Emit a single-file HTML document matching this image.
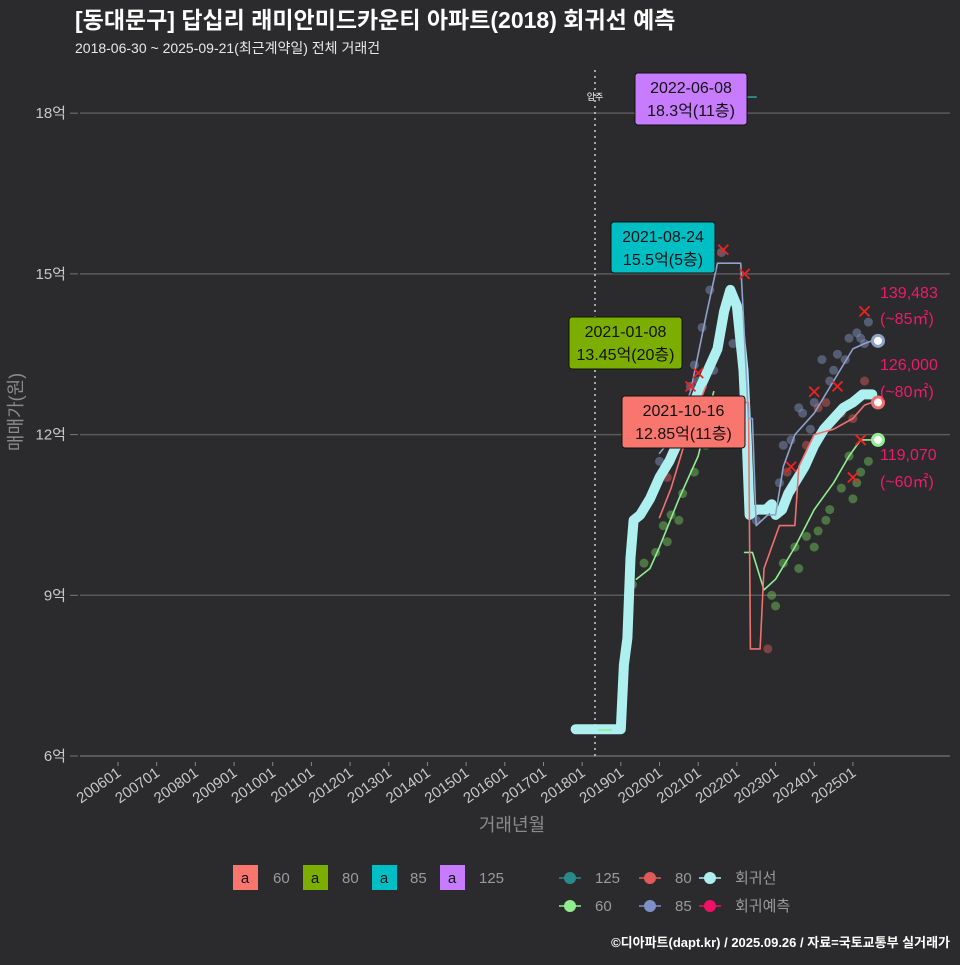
<!DOCTYPE html>
<html><head><meta charset="utf-8">
<style>
html,body{margin:0;padding:0;background:#2b2b2d;}
body{width:960px;height:960px;overflow:hidden;font-family:"Liberation Sans","Noto Sans CJK KR",sans-serif;}
</style></head>
<body>
<svg id="chart" width="960" height="960" xmlns="http://www.w3.org/2000/svg" font-family="Liberation Sans, Noto Sans CJK KR, sans-serif">
<rect width="960" height="960" fill="#2b2b2d"/>
<text x="75" y="28" fill="#ffffff" font-size="23" font-weight="bold">[동대문구] 답십리 래미안미드카운티 아파트(2018) 회귀선 예측</text>
<text x="75" y="53" fill="#e8e8e8" font-size="14">2018-06-30 ~ 2025-09-21(최근계약일) 전체 거래건</text>
<g id="grid"></g>
<g id="marks"></g>
<g id="labels"></g>
<text transform="translate(22,412) rotate(-90)" text-anchor="middle" fill="#8a8a8a" font-size="18">매매가(원)</text>
<text x="512" y="831" text-anchor="middle" fill="#8a8a8a" font-size="18">거래년월</text>
<g font-size="15">
 <rect x="233" y="865" width="25" height="25" fill="#f8766d"/><text x="245" y="883" text-anchor="middle" font-size="15" fill="#111">a</text><text x="273" y="883" fill="#9a9a9a">60</text>
 <rect x="303" y="865" width="25" height="25" fill="#7cae00"/><text x="315" y="883" text-anchor="middle" fill="#111">a</text><text x="342" y="883" fill="#9a9a9a">80</text>
 <rect x="372" y="865" width="25" height="25" fill="#00bfc4"/><text x="384" y="883" text-anchor="middle" fill="#111">a</text><text x="410" y="883" fill="#9a9a9a">85</text>
 <rect x="440" y="865" width="25" height="25" fill="#c77cff"/><text x="452" y="883" text-anchor="middle" fill="#111">a</text><text x="479" y="883" fill="#9a9a9a">125</text>
</g>
<g id="legend2" font-size="15"></g>
<text x="950" y="947" text-anchor="end" fill="#ffffff" font-size="13" font-weight="bold">©디아파트(dapt.kr) / 2025.09.26 / 자료=국토교통부 실거래가</text>
</svg>
<script>
const yTicks=[6,9,12,15,18];
const xTickYears=[2006,2007,2008,2009,2010,2011,2012,2013,2014,2015,2016,2017,2018,2019,2020,2021,2022,2023,2024,2025];
const regT=[2017.83,2019.0,2019.08,2019.17,2019.25,2019.33,2019.5,2019.75,2020.0,2020.25,2020.5,2020.75,2021.0,2021.25,2021.5,2021.67,2021.83,2022.0,2022.17,2022.25,2022.33,2022.5,2022.75,2022.9,2023.0,2023.17,2023.33,2023.5,2023.75,2024.0,2024.25,2024.5,2024.75,2025.0,2025.25,2025.5];
const regV=[6.5,6.5,7.7,8.2,9.7,10.4,10.5,10.8,11.2,11.5,11.9,12.3,12.8,13.2,13.6,14.3,14.7,14.4,13.2,12.0,10.5,10.6,10.6,10.7,10.5,10.6,10.9,11.1,11.4,11.8,12.1,12.3,12.5,12.6,12.75,12.75];
const s85T=[2020.0,2020.4,2020.8,2021.2,2021.5,2021.8,2022.1,2022.3,2022.4,2022.5,2022.8,2023.0,2023.2,2023.5,2024.0,2024.5,2025.0,2025.3,2025.5];
const s85V=[11.65,12.0,12.8,14.2,15.2,15.2,15.2,12.3,12.3,10.3,10.5,10.5,11.4,12.0,12.4,13.0,13.6,13.7,13.75];
const s80T=[2020.0,2020.3,2020.8,2021.2,2021.35,2022.3,2022.35,2022.6,2022.7,2023.1,2023.5,2023.6,2024.0,2024.5,2025.0,2025.3,2025.5];
const s80V=[10.45,11.0,12.2,12.9,12.6,12.6,8.0,8.0,9.5,10.3,10.3,11.4,12.0,12.1,12.3,12.55,12.6];
const s60T=[2019.4,2019.75,2020.0,2020.5,2021.0,2021.4,2022.2,2022.4,2022.7,2023.0,2023.5,2024.0,2024.5,2024.9,2025.2,2025.5];
const s60V=[9.3,9.5,9.9,10.8,11.6,12.8,9.8,9.8,9.1,9.3,9.9,10.6,11.1,11.6,11.9,11.9];
const dot85T=[2020.0,2020.3,2020.6,2020.9,2021.1,2021.3,2021.6,2022.5,2022.8,2023.1,2023.4,2023.7,2024.0,2024.2,2024.4,2024.6,2024.9,2025.1,2025.3,2025.4,2021.4,2020.8,2023.9,2021.9,2022.3,2023.2,2023.6,2024.5,2024.8,2025.2,2020.5,2021.0];
const dot85V=[11.5,12.2,12.6,13.3,14.0,14.7,15.4,10.4,10.6,11.1,11.9,12.4,12.6,13.4,13.0,13.5,13.8,13.9,13.7,14.1,13.2,12.9,12.1,13.7,11.3,11.8,12.5,13.2,13.4,13.8,11.9,13.0];
const dot80T=[2020.2,2020.5,2020.7,2021.0,2022.8,2023.3,2023.8,2024.3,2024.7,2025.0,2025.3,2024.1,2020.9,2021.1];
const dot80V=[11.2,11.8,12.4,12.3,8.0,11.3,11.8,12.6,12.4,12.3,13.0,12.5,12.0,12.6];
const dot60T=[2019.3,2019.6,2019.9,2020.1,2020.3,2020.6,2020.9,2021.2,2022.9,2023.2,2023.5,2023.8,2024.1,2024.4,2024.7,2025.0,2025.2,2025.4,2023.0,2024.3,2020.2,2020.5,2023.6,2024.0,2024.9,2025.1];
const dot60V=[9.2,9.6,9.8,10.3,10.5,10.9,11.3,11.8,9.0,9.6,9.9,10.1,10.2,10.6,11.0,10.8,11.3,11.5,8.8,10.4,10.0,10.4,9.5,9.9,11.6,11.1];
const xT=[2021.0,2021.65,2022.2,2024.0,2024.6,2025.0,2025.2,2025.3,2020.8,2023.4];
const xV=[13.15,15.45,15.0,12.8,12.9,11.2,11.9,14.3,12.9,11.4];
const s125T=[2022.0,2022.5];
const s125V=[18.3,18.3];

const NS='http://www.w3.org/2000/svg';
function X(t){return 118+(t-2006)*38.68;}
function Y(v){return 756-(v-6)*53.57;}
function el(tag,attrs,parent){const e=document.createElementNS(NS,tag);for(const k in attrs)e.setAttribute(k,attrs[k]);parent.appendChild(e);return e;}
const grid=document.getElementById('grid'),marks=document.getElementById('marks'),labels=document.getElementById('labels');
yTicks.forEach(v=>{
 const l=el('line',{x1:80,x2:950,y1:Y(v),y2:Y(v),stroke:v===6?'#6a6a6a':'#5a5a5a','stroke-width':1.5},grid);
 
 
 const t=el('text',{x:66,y:Y(v)+5,'text-anchor':'end',fill:'#c8c8c8','font-size':15},grid);
 t.textContent=v+'억';
 
 
 el('line',{x1:70,x2:78,y1:Y(v),y2:Y(v),stroke:'#777'},grid);
});
xTickYears.forEach(yr=>{
 const x=X(yr);
 el('line',{x1:x,x2:x,y1:762,y2:766,stroke:'#888'},grid);
 const t=el('text',{x:x+4,y:775,'text-anchor':'end',fill:'#c8c8c8','font-size':15,transform:'rotate(-35 '+(x+4)+' 775)'},grid);
 t.textContent=yr+'01';
 
 
});
const vl=el('line',{x1:595,x2:595,y1:70,y2:760,stroke:'#cccccc','stroke-width':1.5,'stroke-dasharray':'2 4'},grid);


const mi=el('text',{x:595,y:100,'text-anchor':'middle',fill:'#fff','font-size':9},grid);mi.textContent='입주';



function dots(T,V,color,name){T.forEach((t,i)=>{const c=el('circle',{cx:X(t),cy:Y(V[i]),r:4.5,fill:color,'fill-opacity':0.5},marks);
 
 });}
dots(dot60T,dot60V,'#6fbf5a','dot-60');
dots(dot80T,dot80V,'#d05a5a','dot-80');
dots(dot85T,dot85V,'#7f90b8','dot-85');
function line(T,V,color,w,name,brk){
 let d='';T.forEach((t,i)=>{const mv=(i===0||(brk&&brk.includes(i)));d+=(mv?'M':'L')+X(t).toFixed(1)+','+Y(V[i]).toFixed(1);});
 const p=el('path',{d:d,fill:'none',stroke:color,'stroke-width':w,'stroke-linejoin':'round','stroke-linecap':'round'},marks);
 
 
}
line(regT,regV,'#aef0f0',10,'regression-line');
line(s60T,s60V,'#90ee90',1.6,'line-60',[6]);
line(s80T,s80V,'#f07070',1.6,'line-80',[4]);
line(s85T,s85V,'#8fa2cc',1.6,'line-85');
line(s125T,s125V,'#2a9d8f',1.6,'line-125');
el('line',{x1:598,x2:612,y1:730,y2:730,stroke:'#90ee90','stroke-width':1.5},marks);
xT.forEach((t,i)=>{const x=X(t),y=Y(xV[i]);
 const g=el('path',{d:`M${x-5},${y-5}L${x+5},${y+5}M${x+5},${y-5}L${x-5},${y+5}`,stroke:'#ee2222','stroke-width':1.8},marks);
 
 });
[[13.75,'#8fa2cc'],[12.6,'#f07070'],[11.9,'#90ee90']].forEach(([v,c])=>{
 const e=el('circle',{cx:878,cy:Y(v),r:5.5,fill:'#fff',stroke:c,'stroke-width':3},marks);
 
 
});
function box(x,y,w,h,color,l1,l2,name){
 const g=el('g',{},labels);
 
 
 el('rect',{x:x,y:y,width:w,height:h,rx:3,fill:color,stroke:'#111'},g);
 const a=el('text',{x:x+w/2,y:y+20,'text-anchor':'middle','font-size':16,fill:'#111'},g);a.textContent=l1;
 const b=el('text',{x:x+w/2,y:y+43,'text-anchor':'middle','font-size':16,fill:'#111'},g);b.textContent=l2;
}
box(635,73,112,52,'#c77cff','2022-06-08','18.3억(11층)','label-125');
box(611,222,104,51,'#00bfc4','2021-08-24','15.5억(5층)','label-85');
box(569,317,113,52,'#7cae00','2021-01-08','13.45억(20층)','label-80');
box(622,396,123,52,'#f8766d','2021-10-16','12.85억(11층)','label-60');
[['139,483',298],['(~85㎡)',324],['126,000',370],['(~80㎡)',397],['119,070',460],['(~60㎡)',487]].forEach(([s,y])=>{
 const t=el('text',{x:880,y:y,fill:'#ee1a6a','font-size':16},labels);t.textContent=s;
 
 
});
const lg=document.getElementById('legend2');
[['#2a8a8a','125',570,878],['#e05a5a','80',650,878],['#aef0f0','회귀선',710,878],['#90ee90','60',570,906],['#7f90c8','85',650,906],['#ee1166','회귀예측',710,906]].forEach(([c,s,x,y])=>{
 const g=el('g',{},lg);
 
 
 el('line',{x1:x-11,x2:x+11,y1:y,y2:y,stroke:c,'stroke-width':1.6},g);
 el('circle',{cx:x,cy:y,r:6,fill:c},g);
 const t=el('text',{x:x+25,y:y+5,fill:'#9a9a9a'},g);t.textContent=s;
});
</script>
</body></html>
